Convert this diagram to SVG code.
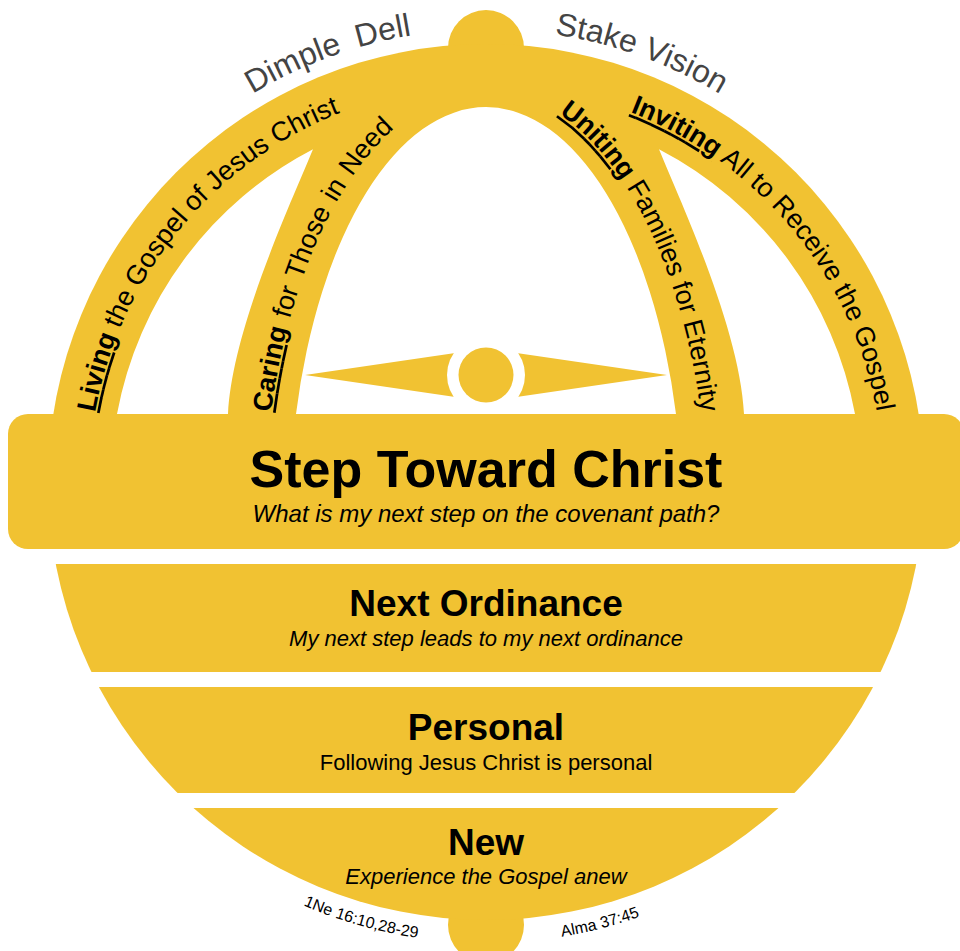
<svg xmlns="http://www.w3.org/2000/svg" width="960" height="951" viewBox="0 0 960 951">
<style>
.y{fill:#F1C232}
.w{fill:#ffffff}
.sans{font-family:"Liberation Sans",Arial,sans-serif;fill:#000}
.title{font-weight:bold;text-anchor:middle}
.sub{text-anchor:middle}
.arcl{font-family:"Liberation Sans",Arial,sans-serif;font-size:32px;fill:#444}
.mer{font-family:"Liberation Sans",Arial,sans-serif;font-size:27px;fill:#000}
.key{font-weight:bold;text-decoration:underline}
.ref{font-family:"Liberation Sans",Arial,sans-serif;font-size:16px;fill:#000}
</style>
<defs>
  <clipPath id="disc"><circle cx="486" cy="482" r="438"/></clipPath>
  <path id="p-top" d="M33,482 A453,453 0 0 1 939,482"/>
  <path id="p-living" d="M89,482 A397,397 0 0 1 486,85"/>
  <path id="p-caring" d="M264,520 A222,430 0 0 1 486,90"/>
  <path id="p-uniting" d="M486,90 A222,430 0 0 1 708,520"/>
  <path id="p-inviting" d="M486,85 A397,397 0 0 1 883,482"/>
  <path id="p-bl" d="M25,482 A461,461 0 0 0 486,943"/>
  <path id="p-br" d="M486,943 A461,461 0 0 0 947,482"/>
</defs>

<rect width="960" height="951" fill="#ffffff"/>

<g id="globe-frame">
  <circle class="y" cx="486" cy="48" r="38"/>
  <g clip-path="url(#disc)"><rect class="y" x="0" y="0" width="960" height="420"/></g>
  <path class="w" d="M117,414 A375,375 0 0 1 313,149.3 C290,205 232,330 228,414 Z"/>
  <path class="w" d="M296,414 A196.6,413 0 0 1 676,414 Z"/>
  <path class="w" d="M855,414 A375,375 0 0 0 659,149.3 C682,205 740,330 744,414 Z"/>
</g>

<g id="compass">
  <polygon class="y" points="305,375 486,348.5 667,375 486,401.5"/>
  <circle class="w" cx="486" cy="375" r="39"/>
  <circle class="y" cx="486" cy="375" r="27.5"/>
</g>

<g id="arc-labels">
  <text class="arcl" word-spacing="7"><textPath href="#p-top" startOffset="466">Dimple Dell</textPath></text>
  <text class="arcl"><textPath href="#p-top" startOffset="780">Stake Vision</textPath></text>
</g>

<g id="living">
  <text class="mer"><textPath href="#p-living" startOffset="70"><tspan class="key">Living</tspan> the Gospel of Jesus Christ</textPath></text>
</g>
<g id="caring">
  <text class="mer" word-spacing="2"><textPath href="#p-caring" startOffset="108"><tspan class="key">Caring</tspan> for Those in Need</textPath></text>
</g>
<g id="uniting">
  <text class="mer" text-anchor="end"><textPath href="#p-uniting" startOffset="417"><tspan class="key">Uniting</tspan> Families for Eternity</textPath></text>
</g>
<g id="inviting">
  <text class="mer" text-anchor="end"><textPath href="#p-inviting" startOffset="553"><tspan class="key">Inviting</tspan> All to Receive the Gospel</textPath></text>
</g>

<g id="step-toward-christ">
  <rect class="y" x="8" y="414" width="956" height="135" rx="20"/>
  <text class="sans title" x="486" y="487" font-size="52">Step Toward Christ</text>
  <text class="sans sub" x="486" y="522" font-size="24" font-style="italic">What is my next step on the covenant path?</text>
</g>

<g id="next-ordinance">
  <g clip-path="url(#disc)"><rect class="y" x="0" y="564" width="960" height="108"/></g>
  <text class="sans title" x="486" y="616" font-size="37">Next Ordinance</text>
  <text class="sans sub" x="486" y="646" font-size="22" font-style="italic">My next step leads to my next ordinance</text>
</g>

<g id="personal">
  <g clip-path="url(#disc)"><rect class="y" x="0" y="687" width="960" height="106"/></g>
  <text class="sans title" x="486" y="740" font-size="37">Personal</text>
  <text class="sans sub" x="486" y="770" font-size="22">Following Jesus Christ is personal</text>
</g>

<g id="new">
  <circle class="y" cx="486" cy="925" r="38"/>
  <g clip-path="url(#disc)"><rect class="y" x="0" y="808" width="960" height="152"/></g>
  <text class="sans title" x="486" y="855" font-size="37">New</text>
  <text class="sans sub" x="486" y="884" font-size="22" font-style="italic">Experience the Gospel anew</text>
</g>

<g id="references">
  <text class="ref"><textPath href="#p-bl" startOffset="536">1Ne 16:10,28-29</textPath></text>
  <text class="ref"><textPath href="#p-br" startOffset="76">Alma 37:45</textPath></text>
</g>
</svg>
